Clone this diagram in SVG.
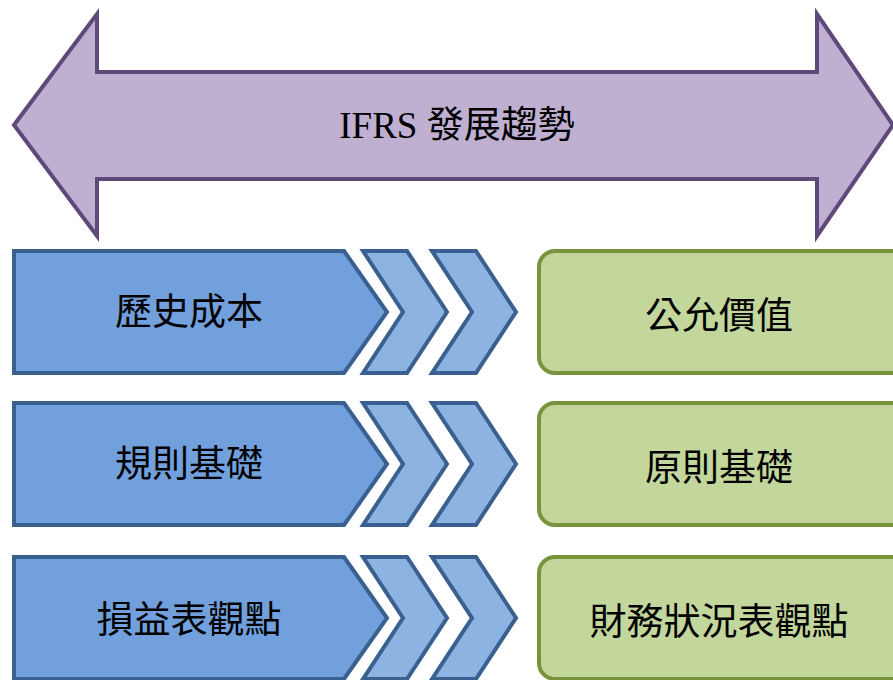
<svg xmlns="http://www.w3.org/2000/svg" width="893" height="680" viewBox="0 0 893 680">
<style>
.arrow{fill:#bfb0d1;stroke:#5f497a;stroke-width:4;stroke-linejoin:miter}
.pent{fill:#71a0dc;stroke:#3a6090;stroke-width:4;stroke-linejoin:miter}
.chev{fill:#8db3e2;stroke:#3a6090;stroke-width:4;stroke-linejoin:miter}
.box{fill:#c3d69b;stroke:#77933c;stroke-width:4}
.t{font-family:"Liberation Serif","Noto Sans CJK TC",serif;font-size:37px;fill:#000;text-anchor:middle;dominant-baseline:central}
</style>
<g id="trend">
<polygon class="arrow" points="14,125 97,14 97,72 817,72 817,14 893,125 817,236 817,179 97,179 97,236"/>
<text class="t" x="457" y="125" font-size="36">IFRS 發展趨勢</text>
</g>
<g id="connectors">
<polygon class="chev" points="363,251 407,251 447,312 407,373 363,373 403,312"/>
<polygon class="chev" points="432,251 476,251 516,312 476,373 432,373 472,312"/>
<polygon class="chev" points="363,403 407,403 447,464 407,525 363,525 403,464"/>
<polygon class="chev" points="432,403 476,403 516,464 476,525 432,525 472,464"/>
<polygon class="chev" points="363,557 407,557 447,618 407,679 363,679 403,618"/>
<polygon class="chev" points="432,557 476,557 516,618 476,679 432,679 472,618"/>
</g>
<g id="historical-cost">
<polygon class="pent" points="14,251 344,251 387,312 344,373 14,373"/>
<text class="t" x="189" y="312">歷史成本</text>
</g>
<g id="rule-based">
<polygon class="pent" points="14,403 344,403 387,464 344,525 14,525"/>
<text class="t" x="189" y="464">規則基礎</text>
</g>
<g id="income-statement">
<polygon class="pent" points="14,557 344,557 387,618 344,679 14,679"/>
<text class="t" x="189" y="620">損益表觀點</text>
</g>
<g id="fair-value">
<rect class="box" x="539" y="251" width="370" height="122" rx="16"/>
<text class="t" x="719" y="316">公允價值</text>
</g>
<g id="principle-based">
<rect class="box" x="539" y="403" width="370" height="122" rx="16"/>
<text class="t" x="719" y="468">原則基礎</text>
</g>
<g id="financial-position">
<rect class="box" x="539" y="557" width="370" height="122" rx="16"/>
<text class="t" x="719" y="622">財務狀況表觀點</text>
</g>
</svg>
